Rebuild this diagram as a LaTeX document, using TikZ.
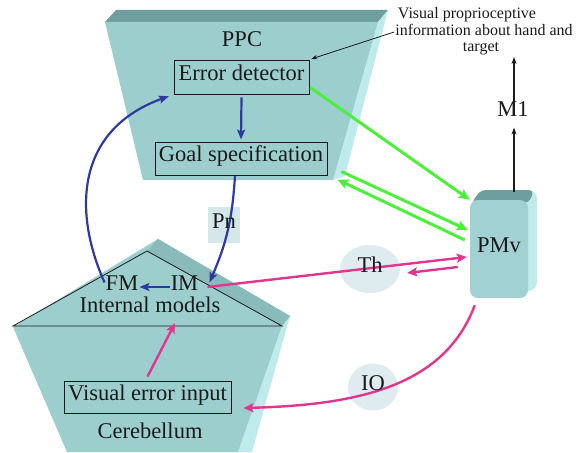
\documentclass[tikz,border=0pt]{standalone}
\usepackage{fontspec}
\setmainfont{Liberation Serif}
\usetikzlibrary{arrows.meta,shapes.geometric}

\pgfdeclarelayer{bg}
\pgfdeclarelayer{edges}
\pgfsetlayers{bg,edges,main}

\definecolor{face}{HTML}{9DCECE}
\definecolor{facedark}{HTML}{8ABBBB}
\definecolor{topband}{HTML}{6F9E9F}
\definecolor{bevel}{HTML}{C0EBEC}
\definecolor{pmvface}{HTML}{A2D1D3}
\definecolor{cloud}{HTML}{DEEBEF}
\definecolor{pnfill}{HTML}{D4E8EA}
\definecolor{linkblue}{HTML}{2E3B9E}
\definecolor{linkgreen}{HTML}{4CF03A}
\definecolor{linkpink}{HTML}{E23590}
\definecolor{ink}{HTML}{1A1A1A}

\begin{document}
\begin{tikzpicture}[x=1pt,y=-1pt,
  lbl/.style={inner sep=1pt, text=ink, font=\fontsize{22.5}{24.5}\selectfont,
              text height=0.68em, text depth=0pt},
  smalltxt/.style={inner sep=1pt, text=ink, font=\fontsize{16}{17}\selectfont,
              text height=0.68em, text depth=0pt},
  framebox/.style={lbl, draw=ink, line width=0.9pt},
  pmvbox/.style={lbl, rectangle, rounded corners=8pt, fill=pmvface,
              minimum width=58pt, minimum height=98pt},
  bluelink/.style={draw=linkblue, line width=2.2pt,
              -{Stealth[length=10pt,width=8pt,inset=2pt]}},
  greenlink/.style={draw=linkgreen, line width=3pt,
              -{Stealth[length=11pt,width=10pt,inset=2pt]}},
  pinklink/.style={draw=linkpink, line width=2.4pt,
              -{Stealth[length=10pt,width=9pt,inset=2pt]}},
  thinlink/.style={draw=ink, line width=0.8pt,
              -{Stealth[length=6pt,width=4.5pt]}},
  motorlink/.style={draw=ink, line width=1.1pt,
              -{Stealth[length=7pt,width=5pt]}}
]
\useasboundingbox (0,0) rectangle (577,452);

% ---------- labelled nodes ----------
\node[lbl] (ppc) at (242,43) {PPC};
\node[framebox, minimum width=135pt, minimum height=34pt] (errdet) at (241.5,77) {Error detector};
\node[framebox, minimum width=172pt, minimum height=33pt] (goal) at (241,158.5) {Goal specification};
\node[lbl] (fm) at (122,287) {FM};
\node[lbl] (im) at (184.5,287) {IM};
\node[lbl] (intmod) at (150,309) {Internal models};
\node[framebox, minimum width=167pt, minimum height=32pt] (vei) at (147.5,397) {Visual error input};
\node[lbl] (cereb) at (150,435) {Cerebellum};
\node[pmvbox] (pmv) at (499,249) {PMv};
\node[lbl] (m1) at (513,113) {M1};
\node[smalltxt] (vis1) at (467,15) {Visual proprioceptive};
\node[smalltxt] (vis2) at (484,32) {information about hand and};
\node[smalltxt] (vis3) at (481,48) {target};
\node[lbl, ellipse, minimum width=60pt, minimum height=48pt] (th) at (370,269) {Th};
\node[lbl, ellipse, minimum width=50pt, minimum height=47pt] (io) at (373,387) {IO};
\node[lbl, minimum width=32pt, minimum height=35pt] (pn) at (224,225) {Pn};
\coordinate (m1top) at (514,57);

% ---------- solid shapes ----------
\begin{pgfonlayer}{bg}
  % PPC block
  \fill[topband] (116,10) -- (388,10) -- (378,22) -- (105,22) -- cycle;
  \fill[bevel] (388,10) -- (378,22) -- (333,180) -- (345,176) -- cycle;
  \fill[face] (105,22) -- (378,22) -- (333,180) -- (143,180) -- cycle;
  % Cerebellum block
  \fill[bevel] (290,316) -- (252,452) -- (238,452) -- (282,326) -- cycle;
  \fill[face] (158,239) -- (290,316) -- (282,326) -- (238,452) -- (67,452) -- (13,327) -- cycle;
  \fill[facedark] (158,239) -- (290,316) -- (282,326) -- (147,251) -- cycle;
  \draw[ink, line width=0.8pt] (13,326) -- (147,251) -- (282,326) -- cycle;
  % PMv block, back faces
  \fill[bevel, rounded corners=9pt] (478,190) rectangle (537,291);
  \fill[topband, rounded corners=5pt] (471,203) -- (481,190) -- (534,190) -- (529,203) -- cycle;
  % relay clouds and the Pn tag
  \fill[cloud] (th.center) ellipse [x radius=30pt, y radius=24pt];
  \fill[cloud] (io.center) ellipse [x radius=25pt, y radius=23.5pt];
  \fill[pnfill] (pn.south west) rectangle (pn.north east);
\end{pgfonlayer}

% ---------- connections ----------
\begin{pgfonlayer}{edges}
  % parietal / cerebellar loop
  \draw[bluelink] (errdet.south) ++(0,3) -- ([yshift=2pt]goal.north);
  \draw[bluelink, shorten >=5pt] (fm.north west)
     .. controls +(-31,-69) and +(-99,36) .. (errdet.south west);
  \draw[bluelink] ([xshift=-6pt]goal.south) to[bend left=10] ([xshift=10pt]im.north east);
  \draw[bluelink] (im.west) -- (fm.east);
  % PPC <-> PMv
  \draw[greenlink] ([yshift=-10pt]errdet.east) -- (pmv.north west);
  \draw[greenlink] ([xshift=14pt,yshift=-13pt]goal.east) -- ([xshift=-2pt,yshift=19pt]pmv.west);
  \draw[greenlink] ([xshift=-5pt,yshift=9pt]pmv.west) -- ([xshift=10pt,yshift=-21pt]goal.east);
  % thalamic and olivary routes
  \draw[pinklink] ([xshift=8pt]im.east) -- ([xshift=-3pt,yshift=-8pt]pmv.west);
  \draw[pinklink] ([xshift=-12pt,yshift=-18pt]pmv.west) -- ([xshift=7pt,yshift=-4pt]th.east);
  \draw[pinklink] ([xshift=5pt,yshift=-7pt]pmv.south west)
     .. controls +(-30,80) and +(117,-3) .. ([xshift=12pt,yshift=-11pt]vei.east);
  \draw[pinklink] ([yshift=4pt]vei.north) -- ([xshift=25pt,yshift=-9.5pt]intmod.south);
  % sensory input and motor output
  \draw[thinlink, shorten >=2pt] (vis2.west) -- (errdet.north east);
  \draw[motorlink, shorten >=10pt] ([xshift=15pt,yshift=8pt]pmv.north) -- ([xshift=1pt]m1.south);
  \draw[motorlink, shorten <=-7pt] ([xshift=1pt]m1.north) -- (m1top);
\end{pgfonlayer}
\end{tikzpicture}
\end{document}
